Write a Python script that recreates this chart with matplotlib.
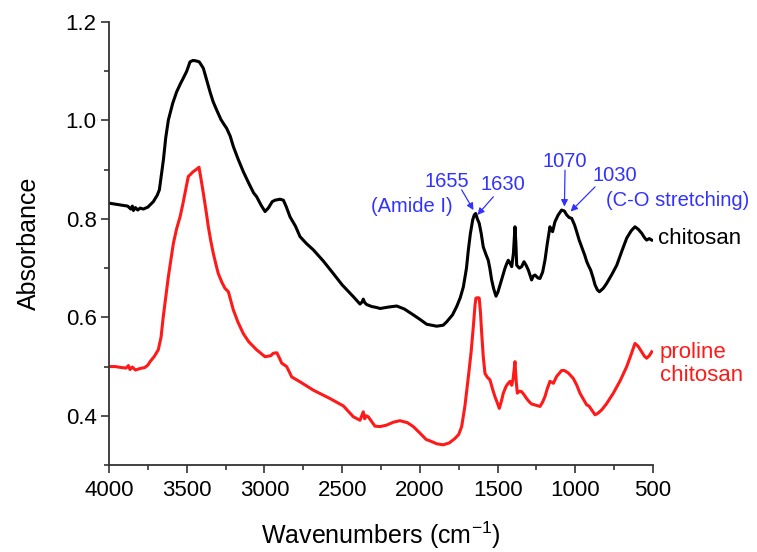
import matplotlib
matplotlib.use("Agg")
import matplotlib.pyplot as plt
from matplotlib.ticker import MultipleLocator, FormatStrFormatter

plt.rcParams["font.family"] = ["Liberation Sans", "DejaVu Sans"]
plt.rcParams["mathtext.fontset"] = "custom"
plt.rcParams["mathtext.rm"] = "Liberation Sans"
plt.rcParams["mathtext.it"] = "Liberation Sans:italic"

# FTIR spectrum of chitosan (wavenumber in cm-1, absorbance)
chitosan_wn = [4000, 3960, 3920, 3880, 3860, 3850, 3843, 3830, 3815, 3800, 3779, 3750,
               3715, 3690, 3676, 3665, 3650, 3635, 3618, 3590, 3565, 3540, 3522, 3500,
               3479, 3460, 3440, 3419, 3405, 3393, 3370, 3350, 3330, 3307, 3280, 3260,
               3243, 3220, 3200, 3170, 3136, 3100, 3070, 3050, 3020, 2996, 2975, 2950,
               2932, 2900, 2878, 2860, 2835, 2800, 2771, 2730, 2685, 2620, 2557, 2500,
               2428, 2385, 2370, 2364, 2355, 2342, 2310, 2278, 2256, 2200, 2149, 2100,
               2042, 2000, 1956, 1892, 1850, 1827, 1790, 1763, 1740, 1720, 1700, 1688,
               1675, 1660, 1650, 1641, 1630, 1618, 1605, 1592, 1575, 1560, 1550, 1538,
               1525, 1510, 1497, 1484, 1468, 1452, 1440, 1431, 1420, 1409, 1398, 1388,
               1382, 1377, 1360, 1345, 1330, 1315, 1302, 1281, 1270, 1259, 1240, 1227,
               1210, 1195, 1180, 1163, 1155, 1146, 1131, 1110, 1088, 1070, 1055, 1040,
               1023, 1005, 991, 975, 959, 940, 926, 915, 901, 885, 873, 858, 845, 820,
               798, 765, 733, 700, 669, 640, 616, 595, 573, 555, 541, 524, 508]
chitosan_abs = [0.832, 0.830, 0.828, 0.826, 0.820, 0.826, 0.817, 0.823, 0.818, 0.822, 0.820, 0.824,
                0.835, 0.848, 0.859, 0.885, 0.920, 0.965, 1.001, 1.035, 1.058, 1.075, 1.086, 1.100,
                1.119, 1.122, 1.121, 1.119, 1.112, 1.106, 1.080, 1.058, 1.038, 1.021, 1.002, 0.992,
                0.984, 0.968, 0.947, 0.922, 0.896, 0.872, 0.853, 0.845, 0.827, 0.815, 0.822, 0.835,
                0.838, 0.840, 0.838, 0.825, 0.804, 0.785, 0.764, 0.750, 0.737, 0.714, 0.689, 0.666,
                0.642, 0.627, 0.632, 0.637, 0.630, 0.626, 0.622, 0.620, 0.618, 0.621, 0.623, 0.617,
                0.605, 0.596, 0.586, 0.582, 0.584, 0.591, 0.605, 0.622, 0.640, 0.662, 0.700, 0.737,
                0.770, 0.798, 0.808, 0.811, 0.800, 0.791, 0.770, 0.743, 0.728, 0.716, 0.700, 0.676,
                0.658, 0.643, 0.652, 0.666, 0.684, 0.700, 0.710, 0.716, 0.710, 0.703, 0.730, 0.784,
                0.750, 0.706, 0.700, 0.703, 0.713, 0.705, 0.696, 0.676, 0.684, 0.686, 0.680, 0.679,
                0.692, 0.716, 0.750, 0.784, 0.778, 0.774, 0.794, 0.808, 0.818, 0.816, 0.808, 0.803,
                0.801, 0.788, 0.774, 0.757, 0.743, 0.727, 0.713, 0.705, 0.696, 0.680, 0.666, 0.656,
                0.652, 0.659, 0.669, 0.687, 0.706, 0.735, 0.761, 0.776, 0.784, 0.779, 0.771, 0.762,
                0.757, 0.760, 0.757]

# FTIR spectrum of proline-modified chitosan
proline_wn = [4000, 3960, 3920, 3890, 3875, 3865, 3850, 3830, 3801, 3770, 3750, 3736,
              3710, 3683, 3665, 3651, 3635, 3618, 3600, 3586, 3565, 3543, 3525, 3511,
              3490, 3458, 3440, 3421, 3410, 3393, 3375, 3361, 3345, 3329, 3310, 3297,
              3275, 3254, 3232, 3215, 3200, 3170, 3136, 3100, 3050, 2996, 2960, 2943,
              2920, 2900, 2889, 2857, 2835, 2825, 2771, 2685, 2578, 2492, 2428, 2385,
              2364, 2355, 2345, 2332, 2289, 2256, 2214, 2170, 2128, 2080, 2042, 2000,
              1960, 1935, 1890, 1849, 1810, 1774, 1750, 1731, 1710, 1688, 1670, 1656,
              1645, 1639, 1625, 1618, 1610, 1602, 1592, 1581, 1565, 1549, 1530, 1517,
              1500, 1489, 1475, 1463, 1445, 1431, 1420, 1409, 1400, 1388, 1380, 1373,
              1360, 1345, 1330, 1313, 1295, 1281, 1260, 1227, 1210, 1195, 1180, 1163,
              1150, 1141, 1120, 1088, 1070, 1045, 1013, 990, 970, 945, 926, 912,
              901, 885, 873, 855, 830, 800, 755, 710, 669, 640, 616, 595,
              573, 555, 541, 524, 508]
proline_abs = [0.500, 0.500, 0.498, 0.497, 0.502, 0.494, 0.499, 0.493, 0.496, 0.498, 0.503, 0.510,
               0.520, 0.534, 0.560, 0.601, 0.640, 0.683, 0.720, 0.750, 0.780, 0.804, 0.830, 0.852,
               0.886, 0.896, 0.900, 0.905, 0.885, 0.852, 0.815, 0.784, 0.755, 0.730, 0.705, 0.689,
               0.672, 0.659, 0.652, 0.632, 0.615, 0.590, 0.567, 0.550, 0.534, 0.520, 0.522, 0.527,
               0.528, 0.515, 0.507, 0.500, 0.486, 0.479, 0.469, 0.452, 0.435, 0.420, 0.398, 0.391,
               0.408, 0.394, 0.400, 0.398, 0.379, 0.378, 0.381, 0.387, 0.390, 0.386, 0.378, 0.365,
               0.352, 0.349, 0.343, 0.341, 0.345, 0.354, 0.362, 0.378, 0.420, 0.479, 0.530, 0.581,
               0.625, 0.639, 0.640, 0.639, 0.610, 0.567, 0.520, 0.486, 0.478, 0.473, 0.452, 0.439,
               0.425, 0.415, 0.430, 0.446, 0.460, 0.466, 0.470, 0.462, 0.475, 0.510, 0.470, 0.446,
               0.450, 0.449, 0.443, 0.435, 0.428, 0.424, 0.422, 0.419, 0.428, 0.439, 0.455, 0.470,
               0.468, 0.466, 0.480, 0.492, 0.492, 0.487, 0.476, 0.462, 0.446, 0.432, 0.422, 0.420,
               0.415, 0.408, 0.402, 0.405, 0.412, 0.424, 0.446, 0.472, 0.500, 0.525, 0.547, 0.541,
               0.530, 0.521, 0.517, 0.522, 0.530]

# Band assignments marked with arrows: (text, text position, arrow tail, arrow head)
band_labels = ["1655", "1630", "1070", "1030"]
band_text_xy = [(1825, 0.875), (1468, 0.869), (1066, 0.916), (745, 0.889)]
band_tail_xy = [(1731, 0.859), (1527, 0.845), (1066, 0.899), (873, 0.865)]
band_head_xy = [(1655, 0.818), (1630, 0.808), (1070, 0.825), (1030, 0.815)]

BLUE = "#3232ff"
RED = "#ff1a1a"

fig = plt.figure(figsize=(7.57, 5.52), dpi=100)
ax = fig.add_axes([0.1440, 0.1576, 0.7186, 0.8025])

ax.plot(chitosan_wn, chitosan_abs, color="black", lw=2.2, solid_joinstyle="round")
ax.plot(proline_wn, proline_abs, color=RED, lw=2.2, solid_joinstyle="round")

ax.set_xlim(4000, 500)
ax.set_ylim(0.3, 1.2)

ax.xaxis.set_major_locator(MultipleLocator(500))
ax.xaxis.set_minor_locator(MultipleLocator(250))
ax.yaxis.set_major_locator(MultipleLocator(0.2))
ax.yaxis.set_minor_locator(MultipleLocator(0.1))
ax.yaxis.set_major_formatter(FormatStrFormatter("%.1f"))
ax.xaxis.set_major_formatter(FormatStrFormatter("%d"))

for side in ("top", "right"):
    ax.spines[side].set_visible(False)
for side in ("left", "bottom"):
    ax.spines[side].set_linewidth(1.3)
    ax.spines[side].set_color("#333333")

ax.tick_params(which="major", direction="out", length=6, width=1.2,
               labelsize=16, color="#333333")
ax.tick_params(axis="x", which="major", pad=5)
ax.tick_params(axis="y", which="major", pad=3)
ax.tick_params(which="minor", direction="out", length=3.5, width=1.2, color="#333333")

ax.set_xlabel(r"Wavenumbers (cm$^{\mathrm{-1}}$)", fontsize=18, labelpad=13)
ax.set_ylabel("Absorbance", fontsize=18, labelpad=18)

for label, txy, tail, head in zip(band_labels, band_text_xy, band_tail_xy, band_head_xy):
    ax.text(txy[0], txy[1], label, color=BLUE, fontsize=14.5, ha="center", va="center")
    ax.annotate("", xy=head, xytext=tail,
                arrowprops=dict(arrowstyle="-|>", color=BLUE, lw=0.9,
                                mutation_scale=10, shrinkA=0, shrinkB=0))

ax.text(2051, 0.825, "(Amide I)", color=BLUE, fontsize=14.5, ha="center", va="center")
ax.text(339, 0.838, "(C-O stretching)", color=BLUE, fontsize=14.5, ha="center",
        va="center", clip_on=False)

ax.text(468, 0.761, "chitosan", color="black", fontsize=16, ha="left", va="center",
        clip_on=False)
ax.text(455, 0.505, "proline\nchitosan", color=RED, fontsize=16, ha="left", va="center",
        linespacing=1.15, clip_on=False)

fig.savefig("out.png", dpi=100)
